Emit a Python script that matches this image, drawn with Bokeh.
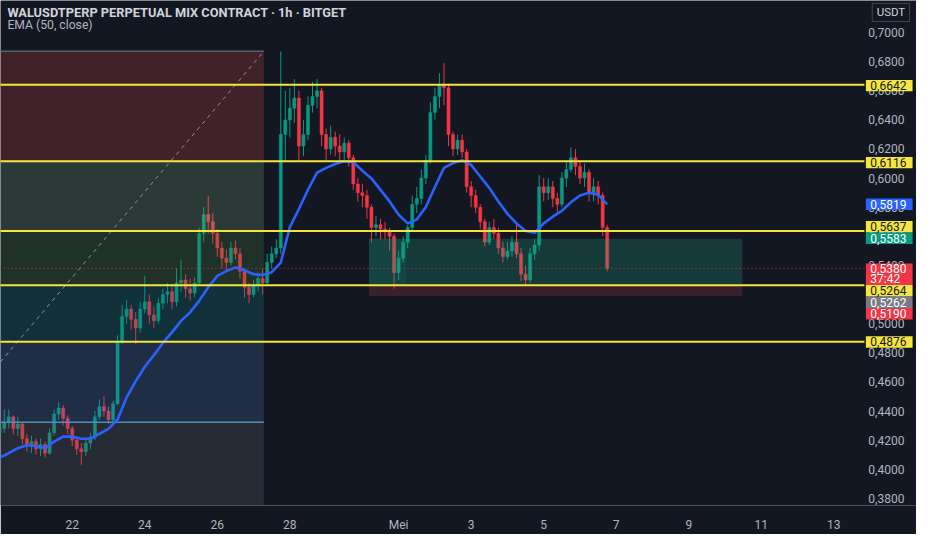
from datetime import datetime, timedelta
from bokeh.plotting import figure
from bokeh.models import Range1d, FixedTicker, ColumnDataSource
from bokeh.core.properties import value
from bokeh.embed import file_html
from bokeh.resources import INLINE

# ---------------- data (3-hour candles, WAL/USDT perp) ----------------
opens = [0.425,0.428,0.432,0.436,0.428,0.431,0.421,0.416,0.419,0.414,
0.417,0.411,0.425,0.438,0.442,0.435,0.428,0.420,0.414,0.412,
0.418,0.422,0.436,0.443,0.440,0.434,0.445,0.488,0.505,0.510,
0.503,0.497,0.510,0.515,0.506,0.502,0.514,0.520,0.522,0.515,
0.528,0.530,0.524,0.521,0.528,0.562,0.575,0.570,0.562,0.552,
0.545,0.542,0.552,0.548,0.536,0.525,0.520,0.526,0.531,0.528,
0.542,0.548,0.552,0.630,0.640,0.648,0.655,0.622,0.630,0.650,
0.656,0.660,0.630,0.620,0.628,0.622,0.618,0.624,0.614,0.596,
0.590,0.588,0.580,0.566,0.568,0.565,0.563,0.560,0.535,0.545,
0.556,0.566,0.582,0.586,0.600,0.612,0.645,0.656,0.664,0.662,
0.630,0.620,0.626,0.618,0.594,0.588,0.580,0.570,0.556,0.566,
0.562,0.552,0.546,0.550,0.556,0.548,0.534,0.530,0.548,0.554,
0.594,0.590,0.594,0.586,0.582,0.600,0.606,0.614,0.608,0.600,
0.604,0.590,0.594,0.588,0.566]
closes = [0.428,0.432,0.436,0.428,0.431,0.421,0.416,0.419,0.414,0.417,
0.411,0.425,0.438,0.442,0.435,0.428,0.420,0.414,0.412,0.418,
0.422,0.436,0.443,0.440,0.434,0.445,0.488,0.505,0.510,0.503,
0.497,0.510,0.515,0.506,0.502,0.514,0.520,0.522,0.515,0.528,
0.530,0.524,0.521,0.528,0.562,0.575,0.570,0.562,0.552,0.545,
0.542,0.552,0.548,0.536,0.525,0.520,0.526,0.531,0.528,0.542,
0.548,0.552,0.630,0.640,0.648,0.655,0.622,0.630,0.650,0.656,
0.660,0.630,0.620,0.628,0.622,0.618,0.624,0.614,0.596,0.590,
0.588,0.580,0.566,0.568,0.565,0.563,0.560,0.535,0.545,0.556,
0.566,0.582,0.586,0.600,0.612,0.645,0.656,0.664,0.662,0.630,
0.620,0.626,0.618,0.594,0.588,0.580,0.570,0.556,0.566,0.562,
0.552,0.546,0.550,0.556,0.548,0.534,0.530,0.548,0.554,0.594,
0.590,0.594,0.586,0.582,0.600,0.606,0.614,0.608,0.600,0.604,
0.590,0.594,0.588,0.566,0.538]
highs = [0.434,0.441,0.441,0.437,0.436,0.432,0.424,0.423,0.421,0.421,
0.419,0.428,0.441,0.446,0.444,0.437,0.430,0.422,0.418,0.421,
0.425,0.440,0.448,0.450,0.443,0.447,0.492,0.513,0.516,0.513,
0.508,0.515,0.533,0.520,0.512,0.518,0.524,0.528,0.526,0.538,
0.544,0.534,0.531,0.532,0.566,0.580,0.588,0.576,0.565,0.556,
0.551,0.556,0.557,0.552,0.538,0.528,0.530,0.535,0.538,0.548,
0.553,0.558,0.687,0.660,0.662,0.668,0.660,0.640,0.656,0.666,
0.668,0.662,0.634,0.636,0.632,0.630,0.628,0.626,0.616,0.600,
0.596,0.592,0.582,0.574,0.572,0.570,0.566,0.562,0.550,0.560,
0.568,0.588,0.594,0.606,0.616,0.652,0.662,0.672,0.679,0.665,
0.632,0.630,0.630,0.620,0.598,0.592,0.582,0.572,0.570,0.572,
0.566,0.556,0.556,0.560,0.569,0.552,0.540,0.552,0.558,0.602,
0.600,0.600,0.598,0.590,0.604,0.612,0.621,0.620,0.612,0.610,
0.606,0.600,0.598,0.590,0.568]
lows = [0.420,0.425,0.428,0.424,0.423,0.417,0.412,0.411,0.410,0.409,
0.408,0.410,0.423,0.434,0.430,0.424,0.416,0.410,0.403,0.409,
0.414,0.420,0.434,0.436,0.431,0.432,0.444,0.486,0.500,0.496,
0.486,0.494,0.507,0.500,0.497,0.500,0.510,0.514,0.510,0.512,
0.522,0.518,0.516,0.518,0.526,0.556,0.562,0.555,0.546,0.538,
0.536,0.540,0.544,0.531,0.518,0.514,0.518,0.522,0.520,0.526,
0.538,0.545,0.548,0.612,0.628,0.638,0.612,0.615,0.626,0.645,
0.648,0.622,0.612,0.616,0.615,0.612,0.612,0.608,0.592,0.584,
0.580,0.572,0.556,0.560,0.558,0.558,0.550,0.524,0.530,0.542,
0.552,0.564,0.576,0.582,0.596,0.610,0.640,0.648,0.650,0.622,
0.615,0.616,0.614,0.590,0.580,0.576,0.565,0.553,0.554,0.558,
0.548,0.542,0.544,0.546,0.545,0.529,0.526,0.528,0.544,0.550,
0.584,0.585,0.580,0.576,0.580,0.594,0.604,0.602,0.596,0.594,
0.584,0.584,0.582,0.560,0.536]
# EMA(50, close) read every 6 hours
ema = [0.408,0.411,0.4145,0.4165,0.416,0.4145,0.419,0.4224,0.4224,0.421,
0.421,0.4244,0.4277,0.4342,0.4494,0.4605,0.4704,0.4783,0.4868,0.494,
0.5019,0.5078,0.5157,0.525,0.5328,0.5361,0.5387,0.5367,0.534,0.5334,
0.5354,0.542,0.5663,0.5788,0.592,0.6037,0.607,0.6097,0.6116,0.611,
0.6051,0.5998,0.5919,0.584,0.5748,0.5689,0.5715,0.5801,0.5939,0.607,
0.6103,0.6123,0.609,0.6011,0.5933,0.584,0.5755,0.5689,0.5637,0.5624,
0.5689,0.5735,0.5775,0.5834,0.588,0.59,0.5886,0.5819]

T0 = datetime(2025, 4, 20)
times = [T0 + timedelta(hours=3 * i) for i in range(len(closes))]
ema_times = times[::2]

levels = [0.6642, 0.6116, 0.5637, 0.5264, 0.4876]
zone_tops = [0.6872, 0.6116, 0.5637, 0.5264, 0.4876, 0.4323]
zone_bottoms = [0.6116, 0.5637, 0.5264, 0.4876, 0.4323, 0.3600]
zone_colors = ["#c3473e", "#73a376", "#437f3e", "#0f7b82", "#4373ae", "#5f636e"]
left_tool_start = datetime(2025, 4, 19)
left_tool_end = datetime(2025, 4, 27, 6, 50)
blue_level = 0.4323
diag_times = [datetime(2025, 4, 20, 0, 30), left_tool_end]
diag_prices = [0.4737, 0.6872]
rt_start = datetime(2025, 4, 30, 4, 20)
rt_end = datetime(2025, 5, 10, 11, 30)
rt_hit = datetime(2025, 5, 1, 5, 0)
rt_target, rt_entry, rt_stop = 0.5583, 0.5262, 0.5190
last_price = 0.5380
ema_last = 0.5819
countdown = "37:42"

y_ticks = [0.38, 0.40, 0.42, 0.44, 0.46, 0.48, 0.50, 0.52, 0.54, 0.56, 0.58, 0.60, 0.62, 0.64, 0.66, 0.68, 0.70]
x_tick_dates = [datetime(2025, 4, 20), datetime(2025, 4, 22), datetime(2025, 4, 24), datetime(2025, 4, 26),
                datetime(2025, 4, 28), datetime(2025, 5, 1), datetime(2025, 5, 3), datetime(2025, 5, 5),
                datetime(2025, 5, 7), datetime(2025, 5, 9), datetime(2025, 5, 11), datetime(2025, 5, 13)]
x_tick_labels = ["20", "22", "24", "26", "28", "Mei", "3", "5", "7", "9", "11", "13"]

# ---------------- layout helpers (reference-pixel calibration) ----------------
def rx(px):
    return T0 + timedelta(days=(px - 73) / 36.9 + 2)

def ry(py):
    return 0.7 - (py - 33.5) / 1522

def ms(d):
    return (d - datetime(1970, 1, 1)).total_seconds() * 1000

def fmt(v):
    return f"{v:.4f}".replace(".", ",")

BG = "#131722"
UP, DOWN = "#089981", "#f23645"
YEL = "#f5e63f"
FONT = "Roboto"
AX = "#b2b5be"

p = figure(width=916, height=534, x_axis_type="datetime", y_axis_location=None,
           x_range=Range1d(rx(0), rx(932)), y_range=Range1d(ry(528), ry(0)),
           output_backend="svg", toolbar_location=None,
           min_border_left=0, min_border_top=0, min_border_right=0, min_border_bottom=22)
p.background_fill_color = BG
p.border_fill_color = BG
p.outline_line_color = None
p.xgrid.visible = False
p.ygrid.visible = False

xa = p.xaxis[0]
xa.ticker = FixedTicker(ticks=[ms(d) for d in x_tick_dates])
xa.major_label_overrides = {ms(d): lab for d, lab in zip(x_tick_dates, x_tick_labels)}
xa.axis_line_color = None
xa.major_tick_line_color = None
xa.minor_tick_line_color = None
xa.major_label_text_color = AX
xa.major_label_text_font_size = "12px"
xa.major_label_text_font = FONT
xa.major_label_standoff = 6

# candles
src = ColumnDataSource(dict(
    t=times, h=highs, l=lows,
    top=[max(o, c) for o, c in zip(opens, closes)],
    bot=[min(o, c) for o, c in zip(opens, closes)],
    col=[UP if c >= o else DOWN for o, c in zip(opens, closes)]))
p.segment(x0="t", y0="l", x1="t", y1="h", line_color="col", line_width=1, source=src)
p.vbar(x="t", width=0.085 * 86400000, top="top", bottom="bot", fill_color="col", line_color="col",
       line_width=0.5, source=src)

# left position tool
n = len(zone_tops)
p.quad(left=[left_tool_start] * n, right=[left_tool_end] * n, top=zone_tops, bottom=zone_bottoms,
       fill_color=zone_colors, fill_alpha=0.25, line_color=None)
p.segment(x0=[left_tool_start], y0=[zone_tops[0]], x1=[left_tool_end], y1=[zone_tops[0]],
          line_color="#5d606b", line_width=1.5)
p.segment(x0=[left_tool_start], y0=[blue_level], x1=[left_tool_end], y1=[blue_level],
          line_color="#4f8dbb", line_width=1.5)
p.line(x=diag_times, y=diag_prices, line_color="#8d9099", line_width=1, line_dash="4 4")

# right position tool
p.quad(left=[rt_start], right=[rt_end], top=[rt_target], bottom=[rt_entry],
       fill_color="#1fa382", fill_alpha=0.25, line_color=None)
p.quad(left=[rt_start], right=[rt_hit], top=[rt_target], bottom=[rt_entry],
       fill_color=UP, fill_alpha=0.12, line_color=None)
p.quad(left=[rt_start], right=[rt_end], top=[rt_entry], bottom=[rt_stop],
       fill_color="#af374a", fill_alpha=0.25, line_color=None)

# EMA
p.line(x=ema_times, y=ema, line_color="#2962ff", line_width=2.6)

# levels and price line (up to the price scale)
scale_left = rx(879)
p.segment(x0=[rx(-5)] * len(levels), y0=levels, x1=[scale_left] * len(levels), y1=levels,
          line_color=YEL, line_width=2)
p.segment(x0=[rx(-5)], y0=[last_price], x1=[scale_left], y1=[last_price],
          line_color=DOWN, line_width=1, line_dash="1 3", line_alpha=0.8)

# header texts
p.text(x=[rx(7)], y=[ry(12.5)], text=["WALUSDTPERP PERPETUAL MIX CONTRACT · 1h · BITGET"],
       text_font=value(FONT), text_font_size="12.8px", text_font_style="bold",
       text_color="#d1d4dc", text_baseline="middle", text_align="left")
p.text(x=[rx(7)], y=[ry(25.5)], text=["EMA (50, close)"],
       text_font=value(FONT), text_font_size="12.2px", text_color=AX,
       text_baseline="middle", text_align="left")

# price scale (right): tick labels
p.text(x=[rx(883)] * len(y_ticks), y=y_ticks, text=[fmt(t) for t in y_ticks],
       text_font=value(FONT), text_font_size="12px", text_color=AX,
       text_baseline="middle", text_align="left")

# USDT box
p.quad(left=[rx(887)], right=[rx(925)], top=[ry(3)], bottom=[ry(22)],
       fill_color=BG, line_color="#434651", line_width=1)
p.text(x=[rx(906)], y=[ry(12.5)], text=["USDT"], text_font=value(FONT), text_font_size="11.5px",
       text_color="#d1d4dc", text_baseline="middle", text_align="center")

# price-scale tags
tag_text = [fmt(levels[0]), fmt(levels[1]), fmt(ema_last), fmt(levels[2]), fmt(rt_target),
            fmt(last_price), fmt(levels[3]), fmt(rt_entry), fmt(rt_stop), fmt(levels[4])]
tag_center = [89, 169.5, 213, 236.5, 248.5, 280.5, 303.5, 315.5, 327.5, 357]
tag_top = [83, 163.5, 207, 230.5, 242.5, 275, 297.5, 309.5, 321.5, 351]
tag_bot = [95, 175.5, 219, 242.5, 254.5, 297.5, 309.5, 321.5, 333.5, 363]
tag_bg = [YEL, YEL, "#2962ff", YEL, UP, DOWN, YEL, "#787b86", DOWN, YEL]
tag_fg = ["#131722", "#131722", "#ffffff", "#131722", "#ffffff", "#ffffff", "#131722", "#ffffff", "#ffffff", "#131722"]
tsrc = ColumnDataSource(dict(
    left=[rx(880.5)] * len(tag_text), right=[rx(928)] * len(tag_text),
    top=[ry(v) for v in tag_top], bottom=[ry(v) for v in tag_bot],
    y=[ry(v) for v in tag_center], x=[rx(885)] * len(tag_text),
    txt=tag_text, bg=tag_bg, fg=tag_fg))
p.quad(left="left", right="right", top="top", bottom="bottom", fill_color="bg", line_color=None, source=tsrc)
p.text(x="x", y="y", text="txt", text_color="fg", text_font=value(FONT), text_font_size="12px",
       text_baseline="middle", text_align="left", source=tsrc)
p.text(x=[rx(885)], y=[ry(291.5)], text=[countdown], text_color="#ffffff", text_font=value(FONT),
       text_font_size="12px", text_baseline="middle", text_align="left")

open("out.html", "w").write(file_html(p, INLINE))
